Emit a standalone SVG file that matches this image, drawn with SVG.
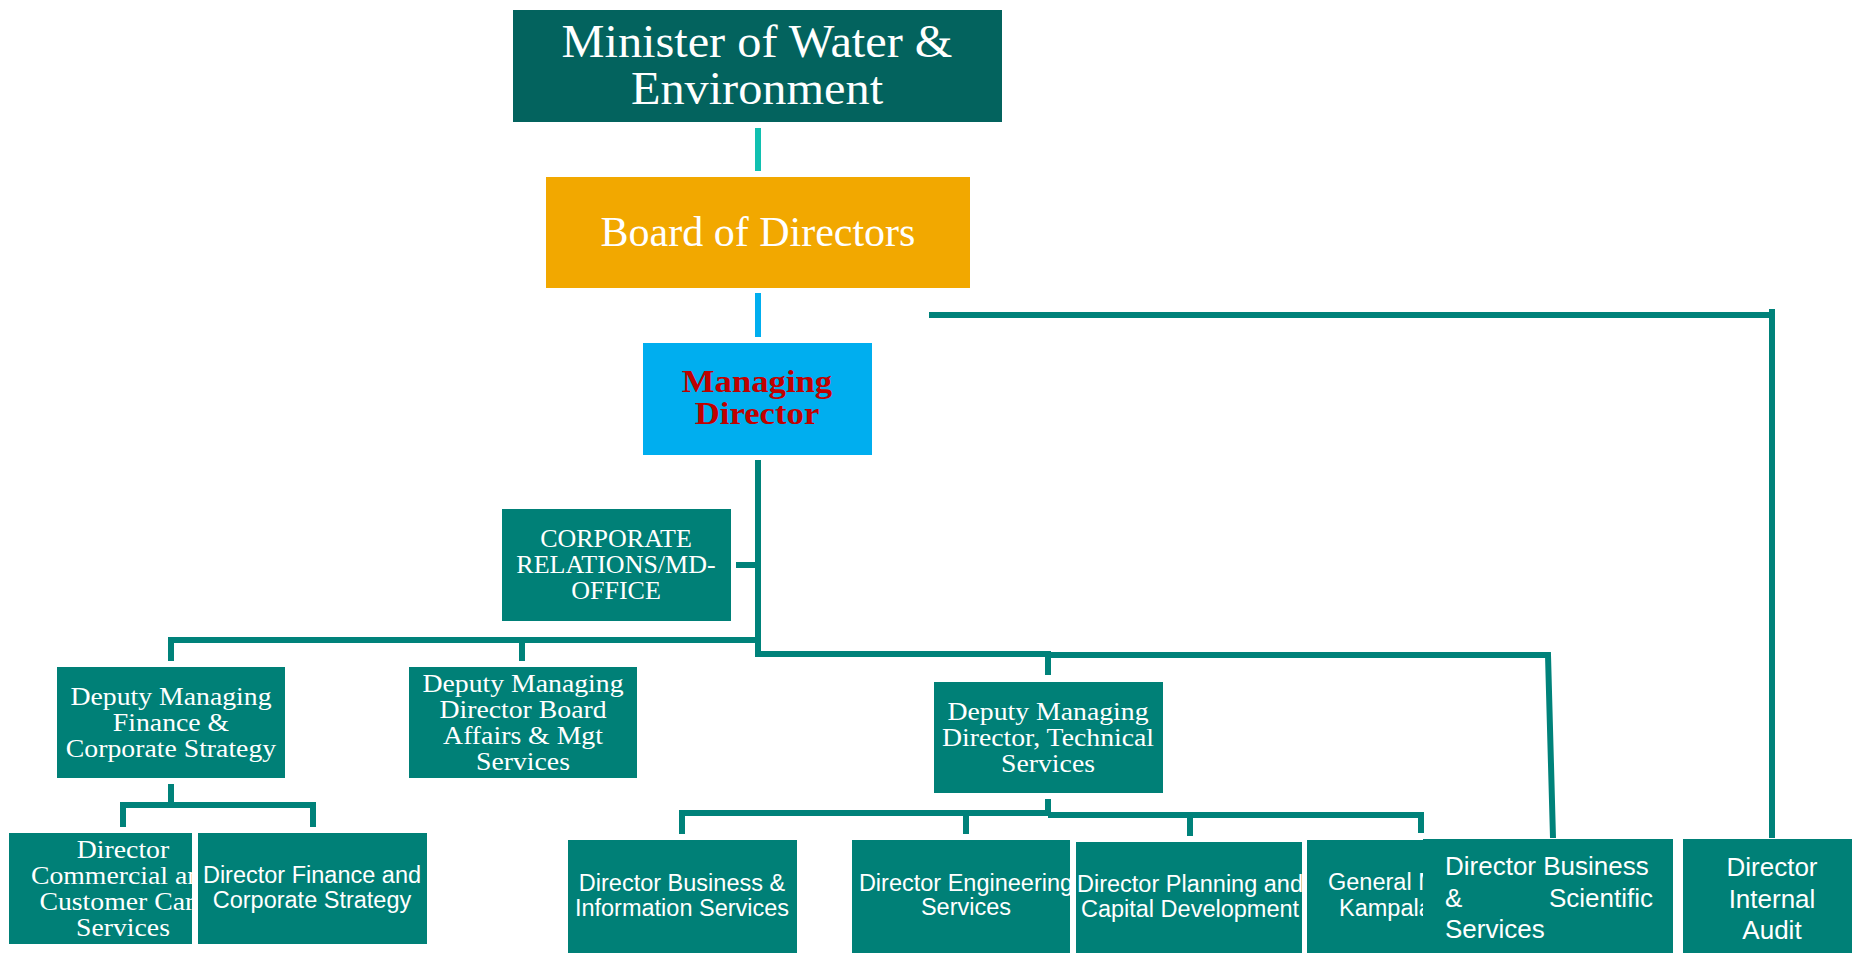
<svg xmlns="http://www.w3.org/2000/svg" width="1852" height="953" viewBox="0 0 1852 953">
<style>
.box{fill:#008077}
.serif{font-family:"Liberation Serif","DejaVu Serif",serif;fill:#ffffff;text-anchor:middle}
.sans{font-family:"Liberation Sans",Arial,sans-serif;fill:#ffffff;text-anchor:middle}
.ln{fill:none;stroke:#00827a;stroke-width:6}
.md{font-weight:bold;fill:#c00000}
</style>
<defs>
<clipPath id="cpCom"><rect x="9" y="833" width="183" height="111"/></clipPath>
<clipPath id="cpEng"><rect x="852" y="840" width="218" height="113"/></clipPath>
<clipPath id="cpPlan"><rect x="1076" y="842" width="226" height="111"/></clipPath>
<clipPath id="cpGen"><rect x="1307" y="840" width="116" height="113"/></clipPath>
</defs>
<rect width="1852" height="953" fill="#ffffff"/>
<g id="connectors">
<line x1="758" y1="128" x2="758" y2="171" stroke="#10c0b0" stroke-width="6"/>
<line x1="758" y1="293" x2="758" y2="337" stroke="#00aeef" stroke-width="6"/>
<polyline class="ln" points="929,315 1772,315"/>
<polyline class="ln" points="1772,309 1772,838"/>
<polyline class="ln" points="758,460 758,654 1048,654 1048,675"/>
<polyline class="ln" points="1048,655 1548,655 1553,838"/>
<line class="ln" x1="736" y1="565" x2="758" y2="565"/>
<polyline class="ln" points="171,661 171,640 758,640"/>
<line class="ln" x1="522" y1="640" x2="522" y2="661"/>
<line class="ln" x1="171" y1="784" x2="171" y2="805"/>
<polyline class="ln" points="123,827 123,805 313,805 313,827"/>
<line class="ln" x1="1048" y1="799" x2="1048" y2="813"/>
<polyline class="ln" points="682,834 682,813 1048,813"/>
<polyline class="ln" points="1048,815 1421,815 1421,833"/>
<line class="ln" x1="966" y1="813" x2="966" y2="834"/>
<line class="ln" x1="1190" y1="815" x2="1190" y2="836"/>
</g>
<g id="minister">
<rect x="513" y="10" width="489" height="112" fill="#03635e"/>
<text class="serif" font-size="46" transform="matrix(1.05,0,0,1,-37.85,0)"><tspan x="757" y="57">Minister of Water &amp;</tspan><tspan x="757" y="104">Environment</tspan></text>
</g>
<g id="board">
<rect x="546" y="177" width="424" height="111" fill="#f2a800"/>
<text class="serif" x="758" y="246" font-size="42">Board of Directors</text>
</g>
<g id="md">
<rect x="643" y="343" width="229" height="112" fill="#00aeef"/>
<text class="serif md" font-size="31" transform="matrix(1.12,0,0,1,-90.84,0)"><tspan x="757" y="392">Managing</tspan><tspan x="757" y="424">Director</tspan></text>
</g>
<g id="corporate">
<rect class="box" x="502" y="509" width="229" height="112"/>
<text class="serif" font-size="25" transform="matrix(1.04,0,0,1,-24.64,0)"><tspan x="616" y="547">CORPORATE</tspan><tspan x="616" y="573">RELATIONS/MD-</tspan><tspan x="616" y="599">OFFICE</tspan></text>
</g>
<g id="dep-finance">
<rect class="box" x="57" y="667" width="228" height="111"/>
<text class="serif" font-size="25" transform="matrix(1.11,0,0,1,-18.81,0)"><tspan x="171" y="705">Deputy Managing</tspan><tspan x="171" y="731">Finance &amp;</tspan><tspan x="171" y="757">Corporate Strategy</tspan></text>
</g>
<g id="dep-board">
<rect class="box" x="409" y="667" width="228" height="111"/>
<text class="serif" font-size="25" transform="matrix(1.11,0,0,1,-57.53,0)"><tspan x="523" y="692">Deputy Managing</tspan><tspan x="523" y="718">Director Board</tspan><tspan x="523" y="744">Affairs &amp; Mgt</tspan><tspan x="523" y="770">Services</tspan></text>
</g>
<g id="dep-technical">
<rect class="box" x="934" y="682" width="229" height="111"/>
<text class="serif" font-size="25" transform="matrix(1.11,0,0,1,-115.28,0)"><tspan x="1048" y="720">Deputy Managing</tspan><tspan x="1048" y="746">Director, Technical</tspan><tspan x="1048" y="772">Services</tspan></text>
</g>
<g id="dir-commercial">
<rect class="box" x="9" y="833" width="183" height="111"/>
<g clip-path="url(#cpCom)">
<text class="serif" font-size="25" transform="matrix(1.11,0,0,1,-13.53,0)"><tspan x="123" y="858">Director</tspan><tspan x="123" y="884">Commercial and</tspan><tspan x="123" y="910">Customer Care</tspan><tspan x="123" y="936">Services</tspan></text>
</g>
</g>
<g id="dir-finance">
<rect class="box" x="198" y="833" width="229" height="111"/>
<text class="sans" font-size="23.5"><tspan x="312" y="883">Director Finance and</tspan><tspan x="312" y="908">Corporate Strategy</tspan></text>
</g>
<g id="dir-business-info">
<rect class="box" x="568" y="840" width="229" height="113"/>
<text class="sans" font-size="23.5"><tspan x="682" y="891">Director Business &amp;</tspan><tspan x="682" y="916">Information Services</tspan></text>
</g>
<g id="dir-engineering">
<rect class="box" x="852" y="840" width="218" height="113"/>
<text class="sans" font-size="23.5" clip-path="url(#cpEng)"><tspan x="966" y="891">Director Engineering</tspan><tspan x="966" y="915">Services</tspan></text>
</g>
<g id="dir-planning">
<rect class="box" x="1076" y="842" width="226" height="111"/>
<text class="sans" font-size="23.5" clip-path="url(#cpPlan)"><tspan x="1190" y="892">Director Planning and</tspan><tspan x="1190" y="917">Capital Development</tspan></text>
</g>
<g id="gm-kampala">
<rect class="box" x="1307" y="840" width="116" height="113"/>
<text class="sans" font-size="23.5" style="text-anchor:start" clip-path="url(#cpGen)"><tspan x="1328" y="890">General M</tspan><tspan x="1339" y="916">Kampala</tspan></text>
</g>
<g id="dir-business-scientific">
<rect class="box" x="1423" y="839" width="250" height="114"/>
<text class="sans" font-size="26" style="text-anchor:start"><tspan x="1445" y="875">Director Business</tspan><tspan x="1445" y="907">&amp;</tspan><tspan x="1653" y="907" style="text-anchor:end">Scientific</tspan><tspan x="1445" y="938">Services</tspan></text>
</g>
<g id="dir-internal-audit">
<rect class="box" x="1683" y="839" width="169" height="114"/>
<text class="sans" font-size="26"><tspan x="1772" y="876">Director</tspan><tspan x="1772" y="908">Internal</tspan><tspan x="1772" y="939">Audit</tspan></text>
</g>
</svg>
